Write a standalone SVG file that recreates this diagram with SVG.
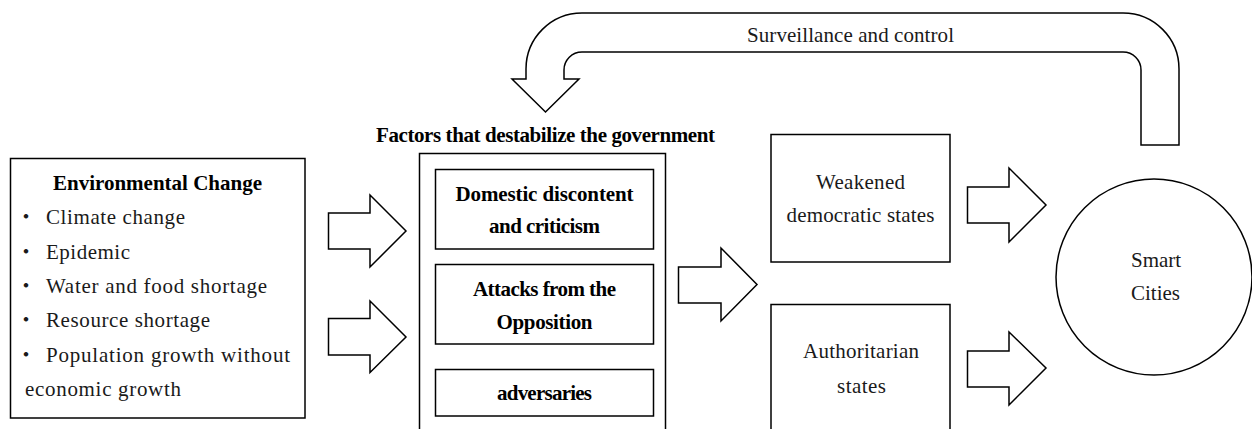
<svg xmlns="http://www.w3.org/2000/svg" width="1252" height="429" viewBox="0 0 1252 429">
<style>
text{font-family:"Liberation Serif","Times New Roman","DejaVu Serif",serif;font-size:21px;fill:#1a1a1a}
.d{font-family:"Noto Sans CJK JP","Noto Sans CJK SC",sans-serif}
.b{font-weight:bold;fill:#000}
.c{text-anchor:middle}
.box{fill:#fff;stroke:#000;stroke-width:1.5}
.arr{fill:#fff;stroke:#000;stroke-width:1.5;stroke-linejoin:miter}
</style>
<rect width="1252" height="429" fill="#fff"/>
<g id="connectors">
  <path class="arr" d="M1141,145 L1141,70 A18,18 0 0 0 1123,52 L582,52 A18,18 0 0 0 564,70 L564,79 L579,79 L545.5,112 L512,79 L526,79 L526,69 A56,56 0 0 1 582,13 L1123,13 A56,56 0 0 1 1179,69 L1179,145 Z"/>
  <text class="c" x="850.5" y="42" textLength="207" lengthAdjust="spacing">Surveillance and control</text>
  <path class="arr" d="M328.5,213 L370,213 L370,195 L406,231 L370,267 L370,249 L328.5,249 Z"/>
  <path class="arr" d="M328.5,318.5 L370,318.5 L370,301 L406,337 L370,372.5 L370,355 L328.5,355 Z"/>
  <path class="arr" d="M678.5,267 L721,267 L721,248 L757,284.5 L721,321 L721,303 L678.5,303 Z"/>
  <path class="arr" d="M967.5,187 L1009,187 L1009,168 L1046,205 L1009,242 L1009,223 L967.5,223 Z"/>
  <path class="arr" d="M967.5,351 L1009,351 L1009,332 L1046,368 L1009,405 L1009,387 L967.5,387 Z"/>
</g>
<g id="environmental-change">
  <rect class="box" x="10.5" y="158.5" width="294.5" height="259.5"/>
  <text class="b c" x="157.5" y="190" textLength="209" lengthAdjust="spacing">Environmental Change</text>
  <text y="224"><tspan class="d" x="15.5">・</tspan><tspan x="46" textLength="139" lengthAdjust="spacing">Climate change</tspan></text>
  <text y="258.5"><tspan class="d" x="15.5">・</tspan><tspan x="46" textLength="84" lengthAdjust="spacing">Epidemic</tspan></text>
  <text y="293"><tspan class="d" x="15.5">・</tspan><tspan x="46" textLength="221" lengthAdjust="spacing">Water and food shortage</tspan></text>
  <text y="327"><tspan class="d" x="15.5">・</tspan><tspan x="46" textLength="164" lengthAdjust="spacing">Resource shortage</tspan></text>
  <text y="361.5"><tspan class="d" x="15.5">・</tspan><tspan x="46" textLength="244" lengthAdjust="spacing">Population growth without</tspan></text>
  <text x="25" y="396" textLength="156" lengthAdjust="spacing">economic growth</text>
</g>
<g id="destabilizing-factors">
  <text class="b" x="376" y="142" textLength="339" lengthAdjust="spacing">Factors that destabilize the government</text>
  <rect class="box" x="419.5" y="153.5" width="246" height="290"/>
  <g id="domestic-discontent">
    <rect class="box" x="435.5" y="169.5" width="218" height="79.5"/>
    <text class="b c" x="544.5" y="201" textLength="178" lengthAdjust="spacing">Domestic discontent</text>
    <text class="b c" x="544.5" y="233" textLength="111" lengthAdjust="spacing">and criticism</text>
  </g>
  <g id="opposition-attacks">
    <rect class="box" x="435.5" y="264.5" width="218" height="79.5"/>
    <text class="b c" x="544.5" y="296" textLength="143" lengthAdjust="spacing">Attacks from the</text>
    <text class="b c" x="544.5" y="329" textLength="96" lengthAdjust="spacing">Opposition</text>
  </g>
  <g id="adversaries">
    <rect class="box" x="435.5" y="369.5" width="218" height="46.5"/>
    <text class="b c" x="544.5" y="400" textLength="95" lengthAdjust="spacing">adversaries</text>
  </g>
</g>
<g id="weakened-democratic-states">
  <rect class="box" x="771" y="134.5" width="179" height="127.5"/>
  <text class="c" x="860.5" y="189" textLength="89" lengthAdjust="spacing">Weakened</text>
  <text class="c" x="860.5" y="222" textLength="148" lengthAdjust="spacing">democratic states</text>
</g>
<g id="authoritarian-states">
  <rect class="box" x="771" y="304.5" width="179" height="140"/>
  <text class="c" x="861" y="358" textLength="116" lengthAdjust="spacing">Authoritarian</text>
  <text class="c" x="861.5" y="393" textLength="49" lengthAdjust="spacing">states</text>
</g>
<g id="smart-cities">
  <circle class="box" cx="1154" cy="277" r="98"/>
  <text class="c" x="1156" y="267" textLength="50" lengthAdjust="spacing">Smart</text>
  <text class="c" x="1155.5" y="300" textLength="49" lengthAdjust="spacing">Cities</text>
</g>
</svg>
